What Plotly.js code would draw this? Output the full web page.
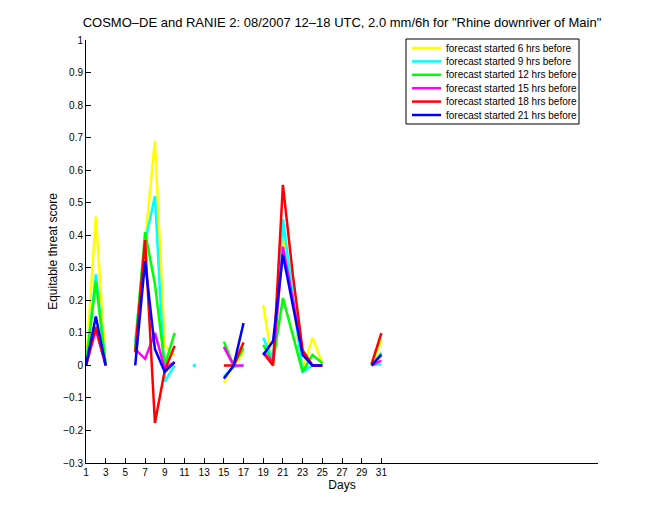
<!DOCTYPE html>
<html>
<head>
<meta charset="utf-8">
<script src="https://cdn.plot.ly/plotly-3.0.1.min.js"></script>
<style>html,body{margin:0;padding:0;background:#fff;}#chart{width:660px;height:520px;}</style>
</head>
<body>
<div id="chart"></div>
<script>
var days = [];
for (var d = 1; d <= 31; d++) days.push(d);

var seriesNames = [
  'forecast started 6 hrs before',
  'forecast started 9 hrs before',
  'forecast started 12 hrs before',
  'forecast started 15 hrs before',
  'forecast started 18 hrs before',
  'forecast started 21 hrs before'
];
var seriesColors = ['#ffff00', '#00ffff', '#00ff00', '#ff00ff', '#ff0000', '#0000ff'];

var N = null;
var ets6h  = [0, 0.457, 0, N, N, 0.07, 0.39, 0.69, 0.06, 0.03, N, N, N, N, -0.053, 0.0, 0.04, N, 0.186, 0.0, 0.40, 0.20, -0.015, 0.085, 0.007, N, N, N, N, 0.0, 0.078];
var ets9h  = [0, 0.28, 0, N, N, 0.07, 0.38, 0.52, -0.05, 0.0, N, 0.0, N, N, -0.035, -0.005, 0.0, N, 0.084, 0.02, 0.45, 0.22, -0.02, 0.0, 0.0, N, N, N, N, 0.0, 0.004];
var ets12h = [0, 0.26, 0, N, N, 0.05, 0.41, 0.25, 0.0, 0.10, N, N, N, N, 0.073, 0.0, 0.053, N, 0.063, 0.01, 0.207, 0.09, -0.02, 0.032, 0.007, N, N, N, N, 0.0, 0.038];
var ets15h = [0, 0.11, 0, N, N, 0.05, 0.02, 0.10, -0.01, 0.01, N, N, N, N, 0.057, 0.0, 0.0, N, 0.04, 0.01, 0.365, 0.20, 0.04, 0.0, 0.0, N, N, N, N, 0.0, 0.015];
var ets18h = [0, 0.118, 0, N, N, 0.04, 0.385, -0.177, -0.015, 0.06, N, N, N, N, 0.0, 0.0, 0.07, N, 0.038, 0.0, 0.555, 0.28, 0.047, 0.0, 0.0, N, N, N, N, 0.004, 0.099];
var ets21h = [0, 0.15, 0, N, N, 0.0, 0.32, 0.05, -0.02, 0.01, N, N, N, N, -0.04, 0.0, 0.13, N, 0.032, 0.075, 0.34, 0.19, 0.032, 0.0, 0.0, N, N, N, N, 0.0, 0.032];

var allSeries = [ets6h, ets9h, ets12h, ets15h, ets18h, ets21h];
var xTicks = [1,3,5,7,9,11,13,15,17,19,21,23,25,27,29,31];

var traces = [];
allSeries.forEach(function (vals, i) {
  traces.push({
    x: days, y: vals, type: 'scatter', mode: 'lines', name: seriesNames[i], showlegend: false,
    line: {color: seriesColors[i], width: 2.5}, connectgaps: false
  });
});
// isolated points (no neighbours) drawn as small dots
allSeries.forEach(function (vals, i) {
  var ix = [], iy = [];
  vals.forEach(function (v, k) {
    if (v === null) return;
    var prev = k > 0 ? vals[k - 1] : null, next = k < vals.length - 1 ? vals[k + 1] : null;
    if (prev === null && next === null) { ix.push(days[k]); iy.push(v); }
  });
  if (ix.length) traces.push({x: ix, y: iy, type: 'scatter', mode: 'markers', showlegend: false,
    marker: {color: seriesColors[i], size: 3, symbol: 'square'}});
});

var fam = 'Liberation Sans, Arial, Helvetica, sans-serif';

// compact MATLAB-style legend box (paper coordinates of the plot area)
var plotL = 86, plotW = 512, plotB = 463, plotH = 423;
function px2x(p) { return (p - plotL) / plotW; }
function py2y(p) { return (plotB - p) / plotH; }
var shapes = [{type: 'rect', xref: 'paper', yref: 'paper', x0: px2x(406), x1: px2x(579), y0: py2y(124), y1: py2y(39),
  line: {color: '#000', width: 1}, fillcolor: '#fff', layer: 'above'}];
var annotations = [];
seriesNames.forEach(function (name, i) {
  var yc = py2y(48 + 13.4 * i);
  shapes.push({type: 'line', xref: 'paper', yref: 'paper', x0: px2x(412), x1: px2x(441), y0: yc, y1: yc,
    line: {color: seriesColors[i], width: 2.5}, layer: 'above'});
  annotations.push({xref: 'paper', yref: 'paper', x: px2x(444), y: yc, xanchor: 'left', yanchor: 'middle',
    text: name, showarrow: false, font: {family: fam, size: 10, color: '#000'}});
});

var layout = {
  width: 660, height: 520,
  paper_bgcolor: '#fff', plot_bgcolor: '#fff',
  margin: {l: 86, r: 62, t: 40, b: 57},
  font: {family: fam, size: 10, color: '#000'},
  title: {text: 'COSMO\u2013DE and RANIE 2: 08/2007 12\u201318 UTC, 2.0 mm/6h for "Rhine downriver of Main"',
    font: {family: fam, size: 13, color: '#000'}, x: 0.5, xref: 'paper', y: 0.956, yref: 'container', yanchor: 'middle'},
  xaxis: {
    range: [1, 53], tickvals: xTicks, ticktext: xTicks.map(String),
    ticks: 'inside', ticklen: 5, tickcolor: '#000', showline: true, linecolor: '#000', linewidth: 1,
    showgrid: false, zeroline: false, mirror: false,
    tickfont: {family: fam, size: 10, color: '#000'},
    title: {text: 'Days', font: {family: fam, size: 12, color: '#000'}, standoff: 3}
  },
  yaxis: {
    range: [-0.3, 1], dtick: 0.1, tick0: 0,
    ticks: 'inside', ticklen: 5, tickcolor: '#000', showline: true, linecolor: '#000', linewidth: 1,
    showgrid: false, zeroline: false, mirror: false,
    tickfont: {family: fam, size: 10, color: '#000'},
    title: {text: 'Equitable threat score', font: {family: fam, size: 12, color: '#000'}, standoff: 3}
  },
  showlegend: false,
  shapes: shapes,
  annotations: annotations
};

Plotly.newPlot('chart', traces, layout, {staticPlot: true, displayModeBar: false});
</script>
</body>
</html>
